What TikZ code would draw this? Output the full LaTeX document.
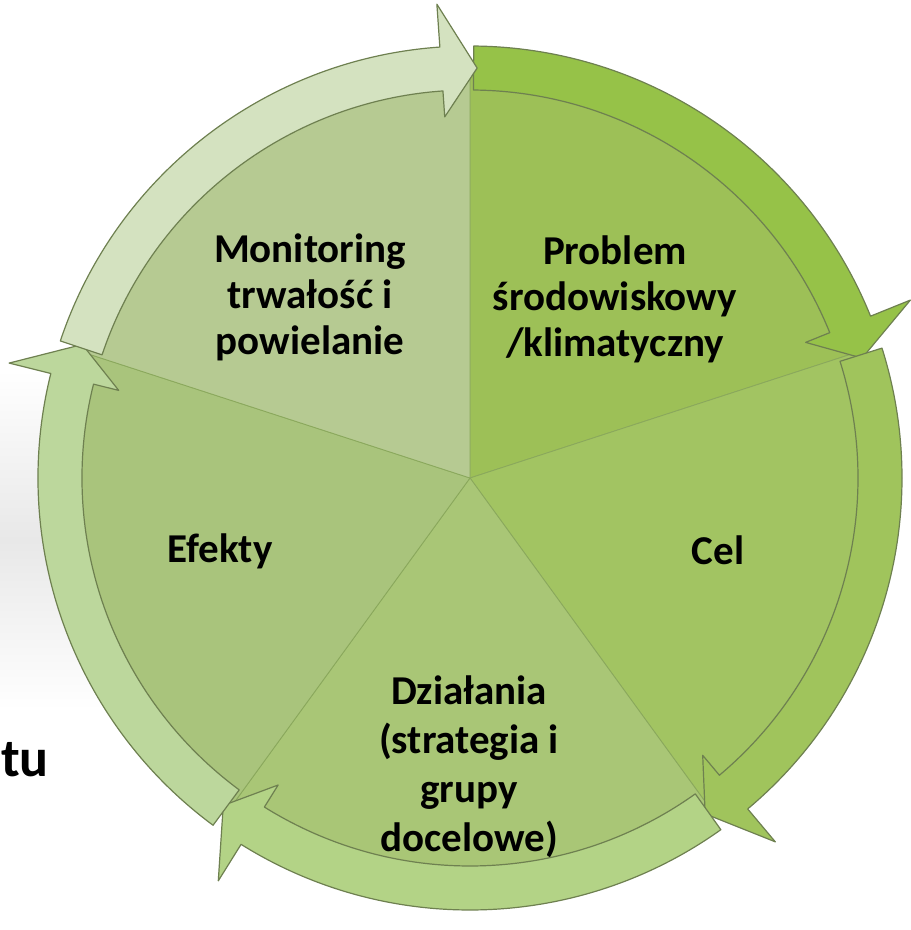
\documentclass[tikz,border=0pt]{standalone}
\usepackage{fontspec}
\setmainfont{Carlito}
\usetikzlibrary{positioning}

\definecolor{probfill}{HTML}{9DC057}
\definecolor{probring}{HTML}{96C248}
\definecolor{celfill}{HTML}{A2C462}
\definecolor{celring}{HTML}{A0C45C}
\definecolor{dzialfill}{HTML}{A9C676}
\definecolor{dzialring}{HTML}{B3D386}
\definecolor{efekfill}{HTML}{A9C47C}
\definecolor{efekring}{HTML}{BCD79C}
\definecolor{monifill}{HTML}{B6CA92}
\definecolor{moniring}{HTML}{D4E2C0}
\definecolor{ringedge}{HTML}{6E8050}
\definecolor{sectoredge}{HTML}{8AA85C}

\begin{document}
\begin{tikzpicture}
    %defining some styles
    [
        x=1pt, y=1pt,
        sector/.style={draw=sectoredge, line width=0.8pt},
        ringarrow/.style={draw=ringedge, line width=1.2pt, line join=round},
        label/.style={font=\fontsize{41}{46}\selectfont\bfseries, align=center, text=black},
    ]
    \useasboundingbox (0,0) rectangle (911,930);

    % grey swoosh behind the wheel
    \shade[top color=white, bottom color=black!9] (0,390) rectangle (320,560);
    \shade[top color=black!9, bottom color=white] (0,220) rectangle (320,390);

    \coordinate (c) at (470,452);

    \begin{scope}[shift={(c)}]
        % the five sectors
        \filldraw[sector, fill=probfill] (0,0) -- (90:405) arc[start angle=90, end angle=18, radius=405] -- cycle;
        \filldraw[sector, fill=celfill] (0,0) -- (18:405) arc[start angle=18, end angle=-54, radius=405] -- cycle;
        \filldraw[sector, fill=dzialfill] (0,0) -- (-54:405) arc[start angle=-54, end angle=-126, radius=405] -- cycle;
        \filldraw[sector, fill=efekfill] (0,0) -- (234:405) arc[start angle=234, end angle=162, radius=405] -- cycle;
        \filldraw[sector, fill=monifill] (0,0) -- (162:405) arc[start angle=162, end angle=90, radius=405] -- cycle;

        % the arrows of the ring
        \filldraw[ringarrow, fill=probring] (89.5:432) arc[start angle=89.5, end angle=22, radius=432]
            -- (22:475) -- (17:410) -- (22:362) -- (22:388) arc[start angle=22, end angle=89.5, radius=388] -- cycle;
        \filldraw[ringarrow, fill=celring] (17.5:432) arc[start angle=17.5, end angle=-50, radius=432]
            -- (-50:475) -- (-55:410) -- (-50:362) -- (-50:388) arc[start angle=-50, end angle=17.5, radius=388] -- cycle;
        \filldraw[ringarrow, fill=dzialring] (-54.5:432) arc[start angle=-54.5, end angle=-122, radius=432]
            -- (-122:475) -- (-127:410) -- (-122:362) -- (-122:388) arc[start angle=-122, end angle=-54.5, radius=388] -- cycle;
        \filldraw[ringarrow, fill=efekring] (233.5:432) arc[start angle=233.5, end angle=166, radius=432]
            -- (166:475) -- (161:410) -- (166:362) -- (166:388) arc[start angle=166, end angle=233.5, radius=388] -- cycle;
        \filldraw[ringarrow, fill=moniring] (161.5:432) arc[start angle=161.5, end angle=94, radius=432]
            -- (94:475) -- (89:410) -- (94:362) -- (94:388) arc[start angle=94, end angle=161.5, radius=388] -- cycle;
    \end{scope}

    \node (monitoring) at (310,633) [label] {Monitoring\\trwałość i\\powielanie};
    \node (problem) at (615,631) [label] {Problem\\środowiskowy\\/klimatyczny};
    \node (cel) at (718,365) [label, anchor=base] {Cel};
    \node (efekty) at (220,367) [label, anchor=base] {Efekty};
    \node (dzialania) at (469,163) [label, font=\fontsize{41}{49}\selectfont\bfseries] {Działania\\(strategia i\\grupy\\docelowe)};
    \node (tu) at (1,153) [anchor=base west, inner sep=0pt, font=\fontsize{54}{58}\selectfont\bfseries] {tu};
\end{tikzpicture}
\end{document}
